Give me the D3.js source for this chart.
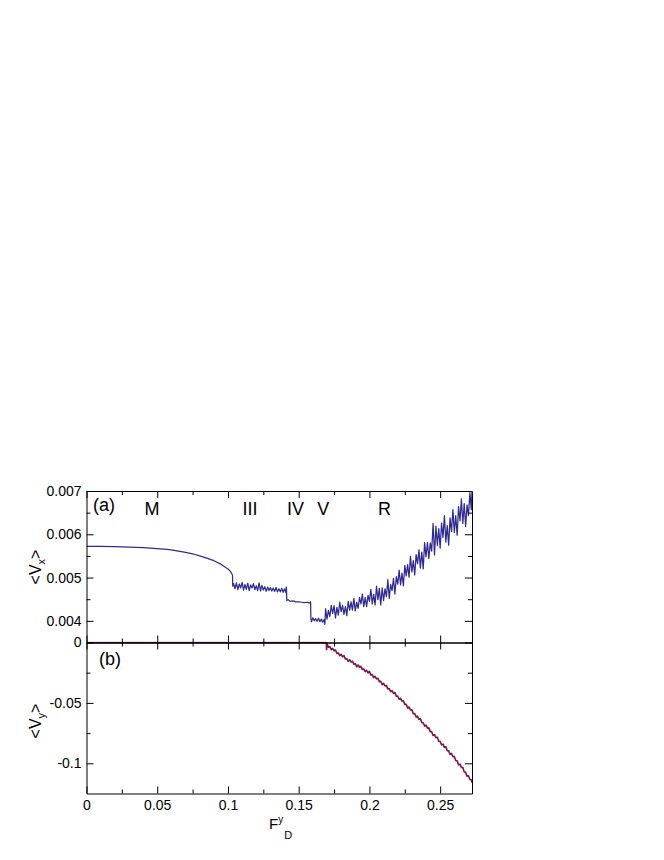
<!DOCTYPE html>
<html>
<head>
<meta charset="utf-8">
<script src="https://cdn.jsdelivr.net/npm/d3@7"></script>
<style>
  html, body { margin: 0; padding: 0; background: #fff; }
  svg text { font-family: "Liberation Sans", Arial, Helvetica, sans-serif; fill: #000; }
</style>
</head>
<body>
<svg id="chart" width="664" height="860"></svg>
<script>
// ---------- DATA ----------
// x-axis ticks (F_D^y)
const xMajorTicks = [0, 0.05, 0.1, 0.15, 0.2, 0.25];
const xMinorTicks = [0.025, 0.075, 0.125, 0.175, 0.225];
const xTickLabels = ["0", "0.05", "0.1", "0.15", "0.2", "0.25"];

// panel (a) <V_x> ticks
const vxMajorTicks = [0.004, 0.005, 0.006, 0.007];
const vxMinorTicks = [0.0045, 0.0055, 0.0065];
const vxTickLabels = ["0.004", "0.005", "0.006", "0.007"];

// panel (b) <V_y> ticks
const vyMajorTicks = [0, -0.05, -0.1];
const vyMinorTicks = [-0.025, -0.075];
const vyTickLabels = ["0", "-0.05", "-0.1"];

// phase labels and their F_D^y location
const phaseNames = ["M", "III", "IV", "V", "R"];
const phaseAt    = [0.0463, 0.1156, 0.1477, 0.1674, 0.2106];

// <V_x> series, [F_D^y, <V_x>]
const vxPhaseM = [
  [0,0.00572],[0.01,0.005718],[0.02,0.005713],[0.03,0.005703],[0.04,0.00569],
  [0.05,0.00567],[0.055,0.005655],[0.06,0.00564],[0.065,0.00561],[0.07,0.00558],
  [0.075,0.00555],[0.08,0.0055],[0.085,0.00545],[0.09,0.00539],[0.095,0.00531],
  [0.1,0.0052],[0.102,0.00513],[0.1032,0.00506]
];
const vxPhaseIII = [
  [0.1034,0.0048],[0.104,0.00486],[0.105,0.00474],[0.106,0.00488],[0.107,0.00472],[0.108,0.00485],
  [0.109,0.00476],[0.110,0.00489],[0.111,0.00471],[0.112,0.00484],[0.113,0.00473],
  [0.114,0.00487],[0.115,0.0047],[0.116,0.00483],[0.117,0.00476],[0.118,0.00486],
  [0.119,0.00472],[0.120,0.00481],[0.121,0.0047],[0.122,0.00488],[0.123,0.00469],
  [0.124,0.00482],[0.125,0.00471],[0.126,0.00479],[0.127,0.00468],[0.128,0.00478],
  [0.129,0.0047],[0.130,0.00477],[0.131,0.00469],[0.132,0.00476],[0.133,0.00468],
  [0.134,0.00477],[0.135,0.00467],[0.136,0.00474],[0.137,0.00467],[0.138,0.00475],
  [0.139,0.00466],[0.140,0.00474],[0.141,0.00465],[0.1413,0.00478]
];
const vxPhaseIV = [
  [0.1416,0.00447],[0.1425,0.00449],[0.144,0.00445],[0.146,0.00446],[0.148,0.00444],
  [0.150,0.00444],[0.152,0.00443],[0.154,0.00442],[0.156,0.00443],[0.158,0.00441],[0.1584,0.00444]
];
const vxPhaseV = [
  [0.1586,0.00406],[0.159,0.00398],[0.160,0.00407],[0.161,0.004],[0.162,0.00405],
  [0.163,0.00399],[0.164,0.00406],[0.165,0.00398],[0.166,0.00404],[0.167,0.00397],
  [0.168,0.00403],[0.1685,0.00392]
];
const vxPhaseR = [
  [0.169,0.00428],[0.170,0.00404],[0.171,0.00424],[0.172,0.0041],[0.173,0.00436],
  [0.174,0.00417],[0.175,0.00435],[0.176,0.00407],[0.177,0.00431],[0.178,0.00413],
  [0.179,0.00443],[0.180,0.00421],[0.181,0.00436],[0.182,0.00415],[0.183,0.00433],
  [0.184,0.00412],[0.185,0.00445],[0.186,0.00425],[0.187,0.00444],[0.188,0.00425],
  [0.189,0.00452],[0.190,0.00423],[0.191,0.00443],[0.192,0.00429],[0.193,0.00454],
  [0.194,0.00439],[0.195,0.00462],[0.196,0.00433],[0.197,0.00454],[0.198,0.00433],
  [0.199,0.00459],[0.200,0.00445],[0.201,0.00473],[0.202,0.00439],[0.203,0.00461],
  [0.204,0.00437],[0.205,0.0048],[0.206,0.00449],[0.207,0.00475],[0.208,0.00437],
  [0.209,0.00476],[0.210,0.00447],[0.211,0.00474],[0.212,0.00456],[0.213,0.00495],
  [0.214,0.00452],[0.215,0.00484],[0.216,0.0047],[0.217,0.00498],[0.218,0.00462],
  [0.219,0.00502],[0.220,0.00485],[0.221,0.00517],[0.222,0.00483],[0.223,0.0051],
  [0.224,0.00481],[0.225,0.00528],[0.226,0.00504],[0.227,0.0053],[0.228,0.00501],
  [0.229,0.00549],[0.230,0.00513],[0.231,0.00539],[0.232,0.00506],[0.233,0.00553],
  [0.234,0.00532],[0.235,0.00564],[0.236,0.00522],[0.237,0.00559],[0.238,0.0052],
  [0.239,0.00581],[0.240,0.00548],[0.241,0.00581],[0.242,0.00544],[0.243,0.0058],
  [0.244,0.00561],[0.245,0.00625],[0.246,0.00552],[0.247,0.00619],[0.248,0.00574],
  [0.249,0.00613],[0.250,0.00568],[0.251,0.00626],[0.252,0.00593],[0.253,0.00643],
  [0.254,0.00582],[0.255,0.0062],[0.256,0.00575],[0.257,0.00638],[0.258,0.00606],
  [0.259,0.00657],[0.260,0.00604],[0.261,0.00643],[0.262,0.00598],[0.263,0.00664],
  [0.264,0.00631],[0.265,0.00682],[0.266,0.00625],[0.267,0.00671],[0.268,0.00618],
  [0.269,0.00668],[0.270,0.00643],[0.271,0.00696],[0.272,0.00657],[0.2725,0.0070]
];

// <V_y> series, [F_D^y, <V_y>]
const vyPinned = [[0,0],[0.05,0],[0.1,0],[0.15,0],[0.1695,0],[0.1697,-0.006]];
const vySliding = [
  [0.170,-0.0007],[0.171,-0.0039],[0.172,-0.0033],[0.173,-0.006],[0.174,-0.0048],
  [0.175,-0.0069],[0.176,-0.0062],[0.177,-0.009],[0.178,-0.0086],[0.179,-0.0109],
  [0.180,-0.0098],[0.181,-0.0119],[0.182,-0.0108],[0.183,-0.0137],[0.184,-0.0133],
  [0.185,-0.0156],[0.186,-0.0143],[0.187,-0.0162],[0.188,-0.0154],[0.189,-0.018],
  [0.190,-0.0174],[0.191,-0.02],[0.192,-0.0186],[0.193,-0.0205],[0.194,-0.0197],
  [0.195,-0.0224],[0.196,-0.0219],[0.197,-0.0242],[0.198,-0.023],[0.199,-0.0251],
  [0.200,-0.0239],[0.201,-0.0269],[0.202,-0.0266],[0.203,-0.0291],[0.204,-0.028],
  [0.205,-0.0301],[0.206,-0.0296],[0.207,-0.0324],[0.208,-0.0321],[0.209,-0.0349],
  [0.210,-0.0338],[0.211,-0.036],[0.212,-0.0355],[0.213,-0.0384],[0.214,-0.0382],
  [0.215,-0.0407],[0.216,-0.0399],[0.217,-0.0422],[0.218,-0.0414],[0.219,-0.0445],
  [0.220,-0.0444],[0.221,-0.047],[0.222,-0.0462],[0.223,-0.0485],[0.224,-0.0482],
  [0.225,-0.0512],[0.226,-0.0511],[0.227,-0.0543],[0.228,-0.0534],[0.229,-0.0559],
  [0.230,-0.0556],[0.231,-0.0589],[0.232,-0.0589],[0.233,-0.0617],[0.234,-0.061],
  [0.235,-0.0636],[0.236,-0.063],[0.237,-0.0663],[0.238,-0.0664],[0.239,-0.0691],
  [0.240,-0.0684],[0.241,-0.0709],[0.242,-0.0707],[0.243,-0.0738],[0.244,-0.0738],
  [0.245,-0.077],[0.246,-0.0762],[0.247,-0.0787],[0.248,-0.0785],[0.249,-0.0818],
  [0.250,-0.0819],[0.251,-0.0847],[0.252,-0.0841],[0.253,-0.0868],[0.254,-0.0862],
  [0.255,-0.0896],[0.256,-0.0897],[0.257,-0.0926],[0.258,-0.0919],[0.259,-0.0945],
  [0.260,-0.0943],[0.261,-0.0977],[0.262,-0.0979],[0.263,-0.1013],[0.264,-0.1007],
  [0.265,-0.1034],[0.266,-0.1035],[0.267,-0.1071],[0.268,-0.1075],[0.269,-0.1106],
  [0.270,-0.1103],[0.271,-0.1134],[0.272,-0.1136],[0.2725,-0.116]
];

const vxSeries = [].concat(vxPhaseM, vxPhaseIII, vxPhaseIV, vxPhaseV, vxPhaseR);
const vySeries = [].concat(vyPinned, vySliding);

// ---------- LAYOUT ----------
const L = 86.5, R = 472, T = 491, M = 642.5, B = 793.5;
const svg = d3.select("#chart");
svg.append("rect").attr("width", 664).attr("height", 860).attr("fill", "#fff");

const x  = d3.scaleLinear().domain([0, 0.2725]).range([L, R]);
const yA = d3.scaleLinear().domain([0.0035, 0.007]).range([M, T]);
const yB = d3.scaleLinear().domain([-0.125, 0]).range([B, M]);

const defs = svg.append("defs");
defs.append("clipPath").attr("id", "clipA").append("rect")
  .attr("x", L).attr("y", T).attr("width", R - L).attr("height", M - T);
defs.append("clipPath").attr("id", "clipB").append("rect")
  .attr("x", L).attr("y", M - 1).attr("width", R - L).attr("height", B - M + 1);

// data lines
svg.append("path").datum(vxSeries)
  .attr("clip-path", "url(#clipA)")
  .attr("fill", "none").attr("stroke", "#2f2a92").attr("stroke-width", 1.25)
  .attr("stroke-linejoin", "round")
  .attr("d", d3.line().x(d => x(d[0])).y(d => yA(d[1])));

svg.append("path").datum(vySeries)
  .attr("clip-path", "url(#clipB)")
  .attr("fill", "none").attr("stroke", "#7d1450").attr("stroke-width", 1.6)
  .attr("stroke-linejoin", "round")
  .attr("d", d3.line().x(d => x(d[0])).y(d => yB(d[1])));

// axes
function drawAxis(gen, ty, tx, major, minor, labels, pad) {
  const gMaj = svg.append("g").attr("transform", `translate(${tx},${ty})`)
    .call(gen.tickValues(major).tickSize(-7).tickSizeOuter(0).tickPadding(pad)
      .tickFormat(labels ? ((d, i) => labels[i]) : () => ""));
  const gMin = svg.append("g").attr("transform", `translate(${tx},${ty})`)
    .call(gen.tickValues(minor).tickSize(-4).tickSizeOuter(0).tickFormat(() => ""));
  gMin.select(".domain").remove();
  [gMaj, gMin].forEach(g => {
    g.selectAll(".domain").attr("stroke", "#000").attr("stroke-width", 1);
    g.selectAll(".tick line").attr("stroke", "#000").attr("stroke-width", 1);
    g.selectAll("text").attr("font-size", "14px").attr("fill", "#000")
      .attr("font-family", '"Liberation Sans", Arial, sans-serif');
  });
  return gMaj;
}

// panel (a)
drawAxis(d3.axisLeft(yA), 0, L, vxMajorTicks, vxMinorTicks, vxTickLabels, 5);
drawAxis(d3.axisRight(yA), 0, R, vxMajorTicks, vxMinorTicks, null, 5);
drawAxis(d3.axisTop(x), T, 0, xMajorTicks, xMinorTicks, null, 5);
drawAxis(d3.axisBottom(x), M, 0, xMajorTicks, xMinorTicks, null, 5);
// panel (b)
drawAxis(d3.axisLeft(yB), 0, L, vyMajorTicks, vyMinorTicks, vyTickLabels, 5);
drawAxis(d3.axisRight(yB), 0, R, vyMajorTicks, vyMinorTicks, null, 5);
drawAxis(d3.axisTop(x), M, 0, xMajorTicks, xMinorTicks, null, 5);
drawAxis(d3.axisBottom(x), B, 0, xMajorTicks, xMinorTicks, xTickLabels, 7);

// panel labels
svg.append("text").attr("x", 93).attr("y", 511).attr("font-size", "18px").text("(a)");
svg.append("text").attr("x", 99).attr("y", 665).attr("font-size", "18px").text("(b)");
svg.selectAll("text.phase").data(phaseNames).enter().append("text")
  .attr("class", "phase")
  .attr("x", (d, i) => x(phaseAt[i])).attr("y", 515)
  .attr("text-anchor", "middle").attr("font-size", "18px").text(d => d);

// y-axis titles
function yTitle(cy, sub) {
  const t = svg.append("text").attr("transform", `translate(41,${cy}) rotate(-90)`)
    .attr("text-anchor", "middle").attr("font-size", "16px");
  t.append("tspan").text("<V");
  t.append("tspan").attr("font-size", "11px").attr("dy", 4).text(sub);
  t.append("tspan").attr("dy", -4).text(">");
}
yTitle(567, "x");
yTitle(721, "y");

// x-axis title F^y_D
const xt = svg.append("text").attr("x", 269).attr("y", 829).attr("font-size", "15px");
xt.append("tspan").text("F");
xt.append("tspan").attr("font-size", "10px").attr("dy", -6).text("y");
xt.append("tspan").attr("font-size", "11px").attr("dy", 16).attr("dx", 1).text("D");
</script>
</body>
</html>
